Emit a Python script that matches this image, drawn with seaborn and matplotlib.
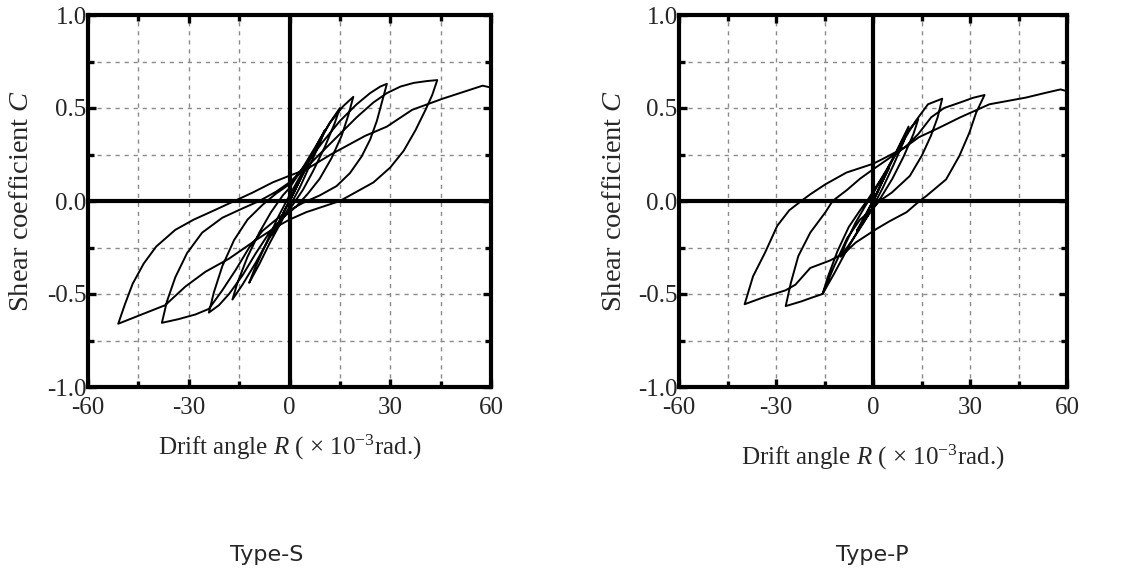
import matplotlib
matplotlib.use("Agg")
import matplotlib.pyplot as plt
import seaborn as sns
import pandas as pd
from matplotlib.ticker import FixedLocator

# ---------------- data (drift angle R [x1e-3 rad], shear coefficient C) ----------------
# Type-S, load path split into cycles
S_c1_R = [0, 2.5, 5, 3.5, 1.5, 0, -2.5, -5, -3.5, -1.5, 0]
S_c1_C = [0, 0.09, 0.18, 0.13, 0.05, 0.0, -0.09, -0.18, -0.13, -0.05, 0.0]
S_c2_R = [0, 3, 6, 9, 10.5, 9, 6, 3, 0, -3, -6, -9, -12, -10.5, -7, -3.5, 0]
S_c2_C = [0, 0.11, 0.22, 0.33, 0.38, 0.31, 0.19, 0.07, -0.03, -0.13, -0.23, -0.34, -0.44, -0.37, -0.23, -0.09, 0.03]
S_c3_R = [0, 4, 8, 12, 15, 13.5, 10.5, 7, 4, 1, -2, -6, -10, -14, -17, -15.5, -12.5, -9, -5.5, -2, 0]
S_c3_C = [0.03, 0.16, 0.29, 0.42, 0.5, 0.42, 0.29, 0.16, 0.06, -0.02, -0.09, -0.2, -0.33, -0.45, -0.53, -0.44, -0.3, -0.17, -0.06, 0.03, 0.07]
S_c4_R = [0, 4, 8, 12, 16, 19, 17.5, 15.5, 12.5, 9, 5.5, 2, -2, -6, -10, -14, -18, -21, -24,
          -22.5, -20, -16.5, -12.5, -8, -4, 0]
S_c4_C = [0.07, 0.18, 0.3, 0.42, 0.51, 0.56, 0.46, 0.35, 0.23, 0.12, 0.04, -0.03, -0.09, -0.17, -0.28, -0.4, -0.5, -0.56, -0.6,
          -0.49, -0.35, -0.21, -0.1, -0.02, 0.04, 0.09]
S_c5_R = [0, 5, 10, 15, 20, 24, 27, 29, 27.5, 26, 24, 21.5, 18, 14, 9, 4, 0, -4, -8, -12, -16, -20, -24, -28, -33, -38,
          -36.5, -34, -30.5, -26, -20, -14, -9, -4, 0]
S_c5_C = [0.09, 0.2, 0.32, 0.43, 0.52, 0.58, 0.615, 0.63, 0.53, 0.43, 0.33, 0.24, 0.15, 0.08, 0.03, -0.01, -0.05, -0.1, -0.16,
          -0.25, -0.37, -0.48, -0.58, -0.61, -0.635, -0.655,
          -0.54, -0.41, -0.28, -0.17, -0.09, -0.04, 0.0, 0.05, 0.1]
S_c6_R = [0, 5, 10, 15, 20, 25, 29, 33, 37, 41, 44, 42.5, 40.5, 37.5, 34, 30, 25, 20, 15, 10, 5, 0, -4, -10, -18, -25,
          -31, -37, -44, -51, -49, -46.7, -43.4, -39.7, -34, -28.5, -23, -16.4, -11, -5, 0]
S_c6_C = [0.1, 0.18, 0.27, 0.36, 0.45, 0.53, 0.58, 0.615, 0.635, 0.645, 0.65, 0.57, 0.49, 0.38, 0.27, 0.18, 0.1, 0.05, 0.0,
          -0.03, -0.06, -0.1, -0.14, -0.21, -0.31, -0.38, -0.46, -0.56, -0.61, -0.66, -0.555, -0.445, -0.336, -0.245,
          -0.155, -0.1, -0.055, 0.0, 0.045, 0.1, 0.136]
S_c7_R = [0, 5, 12.3, 22.5, 29, 36.5, 45.6, 50.7, 55, 57.5, 60]
S_c7_C = [0.136, 0.17, 0.25, 0.35, 0.40, 0.49, 0.55, 0.58, 0.605, 0.62, 0.61]

# Type-P
P_c1_R = [0, 2.5, 5, 3.5, 1.5, 0, -2.5, -5, -3.5, -1.5, 0]
P_c1_C = [0, 0.09, 0.18, 0.13, 0.05, 0.0, -0.08, -0.16, -0.12, -0.05, 0.0]
P_c2_R = [0, 3, 6, 9, 11, 9.5, 6.5, 3, 0, -3, -6, -10, -8.5, -5.5, -2.5, 0]
P_c2_C = [0, 0.11, 0.22, 0.33, 0.4, 0.32, 0.2, 0.07, -0.03, -0.12, -0.2, -0.3, -0.23, -0.12, -0.03, 0.04]
P_c3_R = [0, 4, 8, 11, 14, 12.5, 9.5, 6, 2.5, 0, -4, -8, -12, -15.6, -14, -11, -7.5, -4, -1.5, 0]
P_c3_C = [0.04, 0.16, 0.29, 0.38, 0.44, 0.36, 0.24, 0.12, 0.02, -0.04, -0.14, -0.26, -0.39, -0.5, -0.41, -0.27, -0.14,
          -0.05, 0.01, 0.05]
P_c4_R = [0, 4, 8, 11, 13.2, 17, 21.4, 20, 17.9, 15.1, 11.4, 5.8, 2, 0, -4, -8, -12, -15.6, -19, -22.2, -27,
          -25.4, -23.1, -19.4, -14.7, -12.5, -8, -4, 0]
P_c4_C = [0.05, 0.16, 0.28, 0.37, 0.43, 0.52, 0.55, 0.45, 0.35, 0.244, 0.135, 0.045, 0.0, -0.04, -0.1, -0.2, -0.35, -0.5,
          -0.52, -0.54, -0.565, -0.44, -0.296, -0.17, -0.06, 0.0, 0.06, 0.12, 0.17]
P_c5_R = [0, 5, 10, 14, 18, 22, 27, 31, 34.5, 31.9, 29.8, 26.7, 22.6, 16.5, 14.4, 10.4, 5, 1.1, -5.4, -8.2, -10, -13.3,
          -19.4, -24, -27, -33.4, -39.7, -37.1, -33.4, -29.6, -25.9, -22.2, -19.4, -14.7, -8.2, 0]
P_c5_C = [0.17, 0.23, 0.29, 0.36, 0.45, 0.5, 0.53, 0.555, 0.57, 0.475, 0.367, 0.242, 0.116, 0.027, 0.0, -0.06, -0.11,
          -0.15, -0.224, -0.27, -0.29, -0.32, -0.36, -0.45, -0.48, -0.515, -0.555, -0.405, -0.278, -0.133, -0.05, 0.0,
          0.036, 0.09, 0.153, 0.2]
P_c6_R = [0, 3, 10, 14.2, 20, 27, 36, 47.3, 53, 58, 60]
P_c6_C = [0.2, 0.226, 0.29, 0.343, 0.39, 0.45, 0.52, 0.556, 0.58, 0.6, 0.59]

x_ticks = [-60, -30, 0, 30, 60]
x_tick_labels = ["-60", "-30", "0", "30", "60"]
x_minor = [-45, -15, 15, 45]
y_ticks = [-1.0, -0.5, 0.0, 0.5, 1.0]
y_tick_labels = ["-1.0", "-0.5", "0.0", "0.5", "1.0"]
y_minor = [-0.75, -0.25, 0.25, 0.75]

panel_titles = ["Type-S", "Type-P"]
x_label = r"Drift angle $R$ ( × $10^{\mathrm{-3}}$rad.)"
y_label = r"Shear coefficient $C$"

S_cycles = [(S_c1_R, S_c1_C), (S_c2_R, S_c2_C), (S_c3_R, S_c3_C), (S_c4_R, S_c4_C),
            (S_c5_R, S_c5_C), (S_c6_R, S_c6_C), (S_c7_R, S_c7_C)]
P_cycles = [(P_c1_R, P_c1_C), (P_c2_R, P_c2_C), (P_c3_R, P_c3_C), (P_c4_R, P_c4_C),
            (P_c5_R, P_c5_C), (P_c6_R, P_c6_C)]


def path_frame(cycles):
    rs, cs = [], []
    for r, c in cycles:
        rs += r
        cs += c
    return pd.DataFrame({"R": rs, "C": cs, "order": range(len(rs))})


# ---------------- style ----------------
sns.set_theme(style="white")
plt.rcParams["font.family"] = ["Liberation Serif", "DejaVu Serif"]
plt.rcParams["mathtext.fontset"] = "custom"
plt.rcParams["mathtext.rm"] = "Liberation Serif"
plt.rcParams["mathtext.it"] = "Liberation Serif:italic"
plt.rcParams["axes.unicode_minus"] = False

W, H = 1141, 577
fig = plt.figure(figsize=(W / 100, H / 100), dpi=100)
fig.patch.set_facecolor("white")


def add_ax(l, r, t, b):
    return fig.add_axes([l / W, 1 - b / H, (r - l) / W, (b - t) / H])


def draw(ax, cycles, xlabel_y):
    df = path_frame(cycles)
    ax.set_facecolor("white")
    ax.set_xlim(-60, 60)
    ax.set_ylim(-1, 1)
    ax.xaxis.set_major_locator(FixedLocator(x_ticks))
    ax.set_xticklabels(x_tick_labels)
    ax.xaxis.set_minor_locator(FixedLocator(x_minor))
    ax.yaxis.set_major_locator(FixedLocator(y_ticks))
    ax.set_yticklabels(y_tick_labels)
    ax.yaxis.set_minor_locator(FixedLocator(y_minor))
    ax.grid(which="both", color="#8a8a8a", linestyle=(0, (3, 3.5)), linewidth=1.0)
    ax.set_axisbelow(True)
    ax.axhline(0, color="black", lw=3.0, zorder=2)
    ax.axvline(0, color="black", lw=3.0, zorder=2)
    sns.lineplot(data=df, x="R", y="C", sort=False, estimator=None, color="black",
                 lw=1.4, ax=ax, zorder=3)
    for s in ax.spines.values():
        s.set_linewidth(3.0)
        s.set_color("black")
    ax.tick_params(which="both", direction="in", top=True, right=True, bottom=True, left=True,
                   color="black", width=2.4, labelsize=18)
    ax.tick_params(which="major", length=6)
    ax.tick_params(which="minor", length=4.5)
    ax.tick_params(axis="x", pad=7)
    ax.tick_params(axis="y", pad=1)
    ax.set_xlabel(x_label, fontsize=18, va="center")
    ax.xaxis.set_label_coords(0.5, xlabel_y)
    ax.set_ylabel(y_label, fontsize=20.5, va="center")
    ax.yaxis.set_label_coords(-0.165, 0.5)


axS = add_ax(88, 491, 15, 387)
axP = add_ax(679, 1067, 15, 387)
draw(axS, S_cycles, -0.163)
draw(axP, P_cycles, -0.19)

fig.text(267 / W, 1 - 555 / H, panel_titles[0], ha="center", va="center", fontsize=16, family="DejaVu Sans")
fig.text(872 / W, 1 - 555 / H, panel_titles[1], ha="center", va="center", fontsize=16, family="DejaVu Sans")

fig.savefig("out.png", dpi=100)
